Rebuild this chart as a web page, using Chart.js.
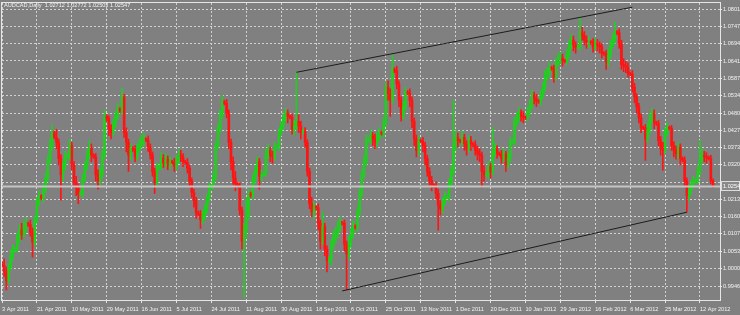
<!DOCTYPE html>
<html>
<head>
<meta charset="utf-8">
<script src="https://cdn.jsdelivr.net/npm/chart.js@4.4.1/dist/chart.umd.min.js"></script>
<style>
  html, body { margin: 0; padding: 0; background: #808080; }
  canvas { display: block; }
</style>
</head>
<body>
<canvas id="audcad" width="740" height="315"></canvas>
<script>
// AUDCAD daily bars, 3 Apr 2011 .. mid Apr 2012 (one bar per trading day, Sunday bars included)
const chartTitle = 'AUDCAD,Daily  1.02712 1.02772 1.02503 1.02547';

const dateLabels = ['3 Apr 2011', '21 Apr 2011', '10 May 2011', '29 May 2011', '16 Jun 2011', '5 Jul 2011',
  '24 Jul 2011', '11 Aug 2011', '30 Aug 2011', '18 Sep 2011', '6 Oct 2011', '25 Oct 2011', '13 Nov 2011',
  '1 Dec 2011', '20 Dec 2011', '10 Jan 2012', '29 Jan 2012', '16 Feb 2012', '6 Mar 2012', '25 Mar 2012', '12 Apr 2012'];
const barsPerLabel = 16;

const priceTicks = [1.0801, 1.0747, 1.0694, 1.0641, 1.0587, 1.0534, 1.0480, 1.0427, 1.0373,
  1.0320, 1.0267, 1.0213, 1.0160, 1.0107, 1.0053, 1.0000, 0.9946];
const priceTickLabels = ['1.0801', '1.0747', '1.0694', '1.0641', '1.0587', '1.0534', '1.0480', '1.0427', '1.0373',
  '1.0320', '', '1.0213', '1.0160', '1.0107', '1.0053', '1.0000', '0.9946'];

const opens = [
  1.0015, 1.0010, 0.9990, 0.9962, 1.0005, 1.0040,
  1.0058, 1.0062, 1.0095, 1.0120, 1.0105, 1.0128,
  1.0140, 1.0136, 1.0112, 1.0082, 1.0150, 1.0208,
  1.0225, 1.0218, 1.0245, 1.0280, 1.0335, 1.0380,
  1.0420, 1.0405, 1.0390, 1.0340, 1.0290, 1.0320,
  1.0345, 1.0348, 1.0380, 1.0320, 1.0265, 1.0250,
  1.0230, 1.0235, 1.0280, 1.0315, 1.0350, 1.0372,
  1.0350, 1.0345, 1.0290, 1.0270, 1.0290, 1.0350,
  1.0470, 1.0462, 1.0430, 1.0420, 1.0445, 1.0470,
  1.0492, 1.0488, 1.0530, 1.0420, 1.0390, 1.0350,
  1.0372, 1.0368, 1.0345, 1.0370, 1.0385, 1.0395,
  1.0400, 1.0398, 1.0375, 1.0350, 1.0300, 1.0265,
  1.0310, 1.0315, 1.0340, 1.0325, 1.0338, 1.0320,
  1.0330, 1.0328, 1.0315, 1.0335, 1.0350, 1.0345,
  1.0330, 1.0328, 1.0310, 1.0270, 1.0235, 1.0210,
  1.0172, 1.0168, 1.0150, 1.0165, 1.0180, 1.0215,
  1.0250, 1.0255, 1.0285, 1.0380, 1.0430, 1.0475,
  1.0515, 1.0510, 1.0480, 1.0390, 1.0330, 1.0280,
  1.0262, 1.0255, 1.0180, 1.0085, 1.0120, 1.0160,
  1.0230, 1.0226, 1.0275, 1.0300, 1.0330, 1.0285,
  1.0290, 1.0293, 1.0355, 1.0365, 1.0350, 1.0345,
  1.0375, 1.0377, 1.0420, 1.0440, 1.0465, 1.0480,
  1.0470, 1.0468, 1.0430, 1.0440, 1.0455, 1.0440,
  1.0420, 1.0425, 1.0390, 1.0300, 1.0200, 1.0175,
  1.0190, 1.0188, 1.0140, 1.0085, 1.0130, 1.0060,
  1.0025, 1.0030, 1.0075, 1.0100, 1.0110, 1.0130,
  1.0142, 1.0140, 1.0075, 1.0045, 1.0080, 1.0105,
  1.0130, 1.0128, 1.0175, 1.0232, 1.0290, 1.0330,
  1.0395, 1.0398, 1.0410, 1.0400, 1.0390, 1.0405,
  1.0420, 1.0417, 1.0450, 1.0560, 1.0540, 1.0520,
  1.0615, 1.0610, 1.0570, 1.0520, 1.0475, 1.0500,
  1.0545, 1.0542, 1.0520, 1.0455, 1.0400, 1.0365,
  1.0395, 1.0393, 1.0380, 1.0340, 1.0300, 1.0272,
  1.0258, 1.0255, 1.0232, 1.0195, 1.0185, 1.0205,
  1.0220, 1.0222, 1.0262, 1.0300, 1.0380, 1.0405,
  1.0395, 1.0393, 1.0405, 1.0385, 1.0370, 1.0395,
  1.0385, 1.0382, 1.0365, 1.0355, 1.0350, 1.0300,
  1.0290, 1.0292, 1.0315, 1.0298, 1.0362, 1.0370,
  1.0355, 1.0353, 1.0340, 1.0355, 1.0320, 1.0340,
  1.0390, 1.0392, 1.0455, 1.0465, 1.0482, 1.0470,
  1.0468, 1.0466, 1.0485, 1.0505, 1.0535, 1.0525,
  1.0518, 1.0516, 1.0535, 1.0558, 1.0598, 1.0600,
  1.0620, 1.0618, 1.0590, 1.0635, 1.0648, 1.0650,
  1.0642, 1.0640, 1.0660, 1.0690, 1.0706, 1.0690,
  1.0682, 1.0684, 1.0728, 1.0720, 1.0705, 1.0698,
  1.0700, 1.0698, 1.0684, 1.0695, 1.0690, 1.0684,
  1.0665, 1.0664, 1.0637, 1.0660, 1.0690, 1.0706,
  1.0730, 1.0728, 1.0695, 1.0630, 1.0625, 1.0622,
  1.0603, 1.0601, 1.0560, 1.0530, 1.0500, 1.0465,
  1.0436, 1.0434, 1.0400, 1.0430, 1.0460, 1.0480,
  1.0450, 1.0448, 1.0395, 1.0370, 1.0365, 1.0420,
  1.0435, 1.0433, 1.0380, 1.0365, 1.0355, 1.0375,
  1.0340, 1.0335, 1.0270, 1.0225, 1.0242, 1.0258,
  1.0270, 1.0272, 1.0300, 1.0340, 1.0350, 1.0345,
  1.0343, 1.0340, 1.0271
];

const highs = [
  1.0020, 1.0030, 1.0005, 1.0015, 1.0058, 1.0075,
  1.0066, 1.0110, 1.0135, 1.0140, 1.0145, 1.0158,
  1.0144, 1.0150, 1.0125, 1.0162, 1.0220, 1.0240,
  1.0228, 1.0262, 1.0295, 1.0348, 1.0400, 1.0443,
  1.0425, 1.0430, 1.0400, 1.0352, 1.0335, 1.0362,
  1.0354, 1.0398, 1.0390, 1.0330, 1.0285, 1.0262,
  1.0240, 1.0292, 1.0330, 1.0368, 1.0395, 1.0385,
  1.0355, 1.0355, 1.0305, 1.0310, 1.0365, 1.0489,
  1.0475, 1.0472, 1.0445, 1.0460, 1.0485, 1.0510,
  1.0497, 1.0557, 1.0538, 1.0435, 1.0400, 1.0385,
  1.0377, 1.0380, 1.0385, 1.0400, 1.0412, 1.0420,
  1.0404, 1.0410, 1.0385, 1.0360, 1.0310, 1.0325,
  1.0320, 1.0358, 1.0352, 1.0355, 1.0348, 1.0345,
  1.0334, 1.0340, 1.0350, 1.0368, 1.0365, 1.0355,
  1.0335, 1.0340, 1.0320, 1.0280, 1.0245, 1.0220,
  1.0178, 1.0180, 1.0182, 1.0198, 1.0230, 1.0265,
  1.0260, 1.0300, 1.0392, 1.0445, 1.0490, 1.0535,
  1.0520, 1.0522, 1.0490, 1.0400, 1.0345, 1.0300,
  1.0266, 1.0265, 1.0190, 1.0140, 1.0215, 1.0245,
  1.0236, 1.0290, 1.0318, 1.0345, 1.0340, 1.0305,
  1.0298, 1.0368, 1.0385, 1.0375, 1.0362, 1.0390,
  1.0382, 1.0435, 1.0455, 1.0478, 1.0496, 1.0490,
  1.0474, 1.0478, 1.0458, 1.0606, 1.0475, 1.0455,
  1.0430, 1.0435, 1.0398, 1.0310, 1.0220, 1.0205,
  1.0194, 1.0200, 1.0150, 1.0175, 1.0140, 1.0070,
  1.0036, 1.0090, 1.0118, 1.0128, 1.0148, 1.0160,
  1.0146, 1.0150, 1.0085, 1.0100, 1.0125, 1.0148,
  1.0135, 1.0190, 1.0248, 1.0305, 1.0348, 1.0412,
  1.0404, 1.0428, 1.0420, 1.0415, 1.0422, 1.0435,
  1.0425, 1.0468, 1.0575, 1.0580, 1.0555, 1.0659,
  1.0620, 1.0625, 1.0580, 1.0530, 1.0518, 1.0560,
  1.0550, 1.0555, 1.0530, 1.0465, 1.0412, 1.0410,
  1.0400, 1.0405, 1.0390, 1.0350, 1.0312, 1.0285,
  1.0262, 1.0268, 1.0245, 1.0210, 1.0220, 1.0238,
  1.0228, 1.0278, 1.0315, 1.0520, 1.0425, 1.0418,
  1.0400, 1.0425, 1.0415, 1.0395, 1.0410, 1.0408,
  1.0390, 1.0395, 1.0378, 1.0370, 1.0360, 1.0318,
  1.0298, 1.0330, 1.0325, 1.0436, 1.0388, 1.0380,
  1.0360, 1.0365, 1.0370, 1.0362, 1.0355, 1.0405,
  1.0398, 1.0468, 1.0482, 1.0498, 1.0490, 1.0485,
  1.0472, 1.0500, 1.0520, 1.0550, 1.0545, 1.0538,
  1.0522, 1.0550, 1.0575, 1.0612, 1.0620, 1.0638,
  1.0625, 1.0628, 1.0650, 1.0665, 1.0668, 1.0662,
  1.0646, 1.0678, 1.0705, 1.0722, 1.0718, 1.0700,
  1.0690, 1.0776, 1.0745, 1.0732, 1.0718, 1.0715,
  1.0704, 1.0710, 1.0712, 1.0708, 1.0700, 1.0695,
  1.0670, 1.0675, 1.0678, 1.0705, 1.0725, 1.0761,
  1.0735, 1.0740, 1.0705, 1.0648, 1.0640, 1.0635,
  1.0608, 1.0612, 1.0572, 1.0540, 1.0510, 1.0478,
  1.0440, 1.0445, 1.0448, 1.0478, 1.0495, 1.0490,
  1.0455, 1.0458, 1.0408, 1.0390, 1.0435, 1.0450,
  1.0440, 1.0442, 1.0392, 1.0378, 1.0390, 1.0385,
  1.0345, 1.0345, 1.0280, 1.0258, 1.0272, 1.0285,
  1.0278, 1.0318, 1.0396, 1.0368, 1.0362, 1.0358,
  1.0348, 1.0350, 1.0277
];

const lows = [
  1.0004, 0.9975, 0.9934, 0.9955, 0.9995, 1.0025,
  1.0052, 1.0050, 1.0080, 1.0090, 1.0095, 1.0110,
  1.0130, 1.0100, 1.0035, 1.0070, 1.0140, 1.0195,
  1.0212, 1.0205, 1.0235, 1.0270, 1.0325, 1.0365,
  1.0400, 1.0370, 1.0320, 1.0211, 1.0270, 1.0305,
  1.0340, 1.0335, 1.0305, 1.0250, 1.0225, 1.0200,
  1.0225, 1.0220, 1.0268, 1.0305, 1.0338, 1.0330,
  1.0340, 1.0270, 1.0245, 1.0258, 1.0280, 1.0340,
  1.0455, 1.0410, 1.0400, 1.0410, 1.0435, 1.0460,
  1.0482, 1.0475, 1.0405, 1.0360, 1.0300, 1.0335,
  1.0362, 1.0330, 1.0335, 1.0360, 1.0372, 1.0380,
  1.0392, 1.0362, 1.0338, 1.0285, 1.0232, 1.0255,
  1.0305, 1.0305, 1.0312, 1.0315, 1.0305, 1.0308,
  1.0322, 1.0300, 1.0305, 1.0325, 1.0330, 1.0315,
  1.0322, 1.0295, 1.0255, 1.0220, 1.0190, 1.0155,
  1.0162, 1.0124, 1.0138, 1.0150, 1.0170, 1.0205,
  1.0245, 1.0245, 1.0275, 1.0370, 1.0420, 1.0465,
  1.0505, 1.0465, 1.0370, 1.0305, 1.0260, 1.0240,
  1.0250, 1.0165, 1.0060, 0.9911, 1.0095, 1.0150,
  1.0220, 1.0215, 1.0262, 1.0290, 1.0245, 1.0270,
  1.0285, 1.0285, 1.0340, 1.0330, 1.0325, 1.0335,
  1.0370, 1.0365, 1.0410, 1.0430, 1.0455, 1.0450,
  1.0462, 1.0415, 1.0412, 1.0430, 1.0420, 1.0400,
  1.0415, 1.0375, 1.0285, 1.0185, 1.0160, 1.0155,
  1.0182, 1.0120, 1.0060, 1.0075, 1.0040, 0.9990,
  1.0020, 1.0010, 1.0062, 1.0080, 1.0095, 1.0115,
  1.0134, 1.0055, 0.9934, 1.0030, 1.0065, 1.0095,
  1.0122, 1.0115, 1.0165, 1.0222, 1.0280, 1.0318,
  1.0390, 1.0385, 1.0380, 1.0370, 1.0378, 1.0395,
  1.0412, 1.0405, 1.0440, 1.0520, 1.0470, 1.0510,
  1.0604, 1.0555, 1.0500, 1.0455, 1.0462, 1.0490,
  1.0536, 1.0500, 1.0435, 1.0380, 1.0345, 1.0350,
  1.0388, 1.0360, 1.0320, 1.0285, 1.0258, 1.0240,
  1.0250, 1.0215, 1.0118, 1.0165, 1.0170, 1.0195,
  1.0215, 1.0210, 1.0250, 1.0290, 1.0365, 1.0375,
  1.0388, 1.0380, 1.0365, 1.0350, 1.0360, 1.0365,
  1.0376, 1.0350, 1.0335, 1.0330, 1.0251, 1.0270,
  1.0285, 1.0278, 1.0280, 1.0290, 1.0348, 1.0340,
  1.0348, 1.0325, 1.0330, 1.0300, 1.0310, 1.0330,
  1.0385, 1.0380, 1.0440, 1.0452, 1.0455, 1.0450,
  1.0460, 1.0455, 1.0475, 1.0495, 1.0508, 1.0500,
  1.0510, 1.0505, 1.0525, 1.0548, 1.0582, 1.0590,
  1.0612, 1.0575, 1.0582, 1.0625, 1.0632, 1.0625,
  1.0635, 1.0630, 1.0650, 1.0678, 1.0672, 1.0665,
  1.0678, 1.0675, 1.0705, 1.0690, 1.0680, 1.0682,
  1.0692, 1.0668, 1.0675, 1.0672, 1.0665, 1.0650,
  1.0658, 1.0615, 1.0625, 1.0650, 1.0680, 1.0695,
  1.0722, 1.0680, 1.0615, 1.0608, 1.0605, 1.0590,
  1.0596, 1.0545, 1.0512, 1.0480, 1.0450, 1.0420,
  1.0428, 1.0334, 1.0390, 1.0418, 1.0450, 1.0432,
  1.0442, 1.0380, 1.0350, 1.0304, 1.0355, 1.0410,
  1.0428, 1.0365, 1.0345, 1.0338, 1.0340, 1.0320,
  1.0330, 1.0255, 1.0174, 1.0210, 1.0230, 1.0248,
  1.0265, 1.0262, 1.0290, 1.0328, 1.0330, 1.0325,
  1.0335, 1.0262, 1.0250
];

const closes = [
  1.0010, 0.9990, 0.9962, 1.0005, 1.0040, 1.0058,
  1.0062, 1.0095, 1.0120, 1.0105, 1.0128, 1.0140,
  1.0136, 1.0112, 1.0082, 1.0150, 1.0208, 1.0225,
  1.0218, 1.0245, 1.0280, 1.0335, 1.0380, 1.0420,
  1.0405, 1.0390, 1.0340, 1.0290, 1.0320, 1.0345,
  1.0348, 1.0380, 1.0320, 1.0265, 1.0250, 1.0230,
  1.0235, 1.0280, 1.0315, 1.0350, 1.0372, 1.0350,
  1.0345, 1.0290, 1.0270, 1.0290, 1.0350, 1.0470,
  1.0462, 1.0430, 1.0420, 1.0445, 1.0470, 1.0492,
  1.0488, 1.0530, 1.0420, 1.0390, 1.0350, 1.0372,
  1.0368, 1.0345, 1.0370, 1.0385, 1.0395, 1.0400,
  1.0398, 1.0375, 1.0350, 1.0300, 1.0265, 1.0310,
  1.0315, 1.0340, 1.0325, 1.0338, 1.0320, 1.0330,
  1.0328, 1.0315, 1.0335, 1.0350, 1.0345, 1.0330,
  1.0328, 1.0310, 1.0270, 1.0235, 1.0210, 1.0172,
  1.0168, 1.0150, 1.0165, 1.0180, 1.0215, 1.0250,
  1.0255, 1.0285, 1.0380, 1.0430, 1.0475, 1.0515,
  1.0510, 1.0480, 1.0390, 1.0330, 1.0280, 1.0262,
  1.0255, 1.0180, 1.0085, 1.0120, 1.0160, 1.0230,
  1.0226, 1.0275, 1.0300, 1.0330, 1.0285, 1.0290,
  1.0293, 1.0355, 1.0365, 1.0350, 1.0345, 1.0375,
  1.0377, 1.0420, 1.0440, 1.0465, 1.0480, 1.0470,
  1.0468, 1.0430, 1.0440, 1.0455, 1.0440, 1.0420,
  1.0425, 1.0390, 1.0300, 1.0200, 1.0175, 1.0190,
  1.0188, 1.0140, 1.0085, 1.0130, 1.0060, 1.0025,
  1.0030, 1.0075, 1.0100, 1.0110, 1.0130, 1.0142,
  1.0140, 1.0075, 1.0045, 1.0080, 1.0105, 1.0130,
  1.0128, 1.0175, 1.0232, 1.0290, 1.0330, 1.0395,
  1.0398, 1.0410, 1.0400, 1.0390, 1.0405, 1.0420,
  1.0417, 1.0450, 1.0560, 1.0540, 1.0520, 1.0615,
  1.0610, 1.0570, 1.0520, 1.0475, 1.0500, 1.0545,
  1.0542, 1.0520, 1.0455, 1.0400, 1.0365, 1.0395,
  1.0393, 1.0380, 1.0340, 1.0300, 1.0272, 1.0258,
  1.0255, 1.0232, 1.0195, 1.0185, 1.0205, 1.0220,
  1.0222, 1.0262, 1.0300, 1.0380, 1.0405, 1.0395,
  1.0393, 1.0405, 1.0385, 1.0370, 1.0395, 1.0385,
  1.0382, 1.0365, 1.0355, 1.0350, 1.0300, 1.0290,
  1.0292, 1.0315, 1.0298, 1.0362, 1.0370, 1.0355,
  1.0353, 1.0340, 1.0355, 1.0320, 1.0340, 1.0390,
  1.0392, 1.0455, 1.0465, 1.0482, 1.0470, 1.0468,
  1.0466, 1.0485, 1.0505, 1.0535, 1.0525, 1.0518,
  1.0516, 1.0535, 1.0558, 1.0598, 1.0600, 1.0620,
  1.0618, 1.0590, 1.0635, 1.0648, 1.0650, 1.0642,
  1.0640, 1.0660, 1.0690, 1.0706, 1.0690, 1.0682,
  1.0684, 1.0728, 1.0720, 1.0705, 1.0698, 1.0700,
  1.0698, 1.0684, 1.0695, 1.0690, 1.0684, 1.0665,
  1.0664, 1.0637, 1.0660, 1.0690, 1.0706, 1.0730,
  1.0728, 1.0695, 1.0630, 1.0625, 1.0622, 1.0603,
  1.0601, 1.0560, 1.0530, 1.0500, 1.0465, 1.0436,
  1.0434, 1.0400, 1.0430, 1.0460, 1.0480, 1.0450,
  1.0448, 1.0395, 1.0370, 1.0365, 1.0420, 1.0435,
  1.0433, 1.0380, 1.0365, 1.0355, 1.0375, 1.0340,
  1.0335, 1.0270, 1.0225, 1.0242, 1.0258, 1.0270,
  1.0272, 1.0300, 1.0340, 1.0350, 1.0345, 1.0343,
  1.0340, 1.0271, 1.0255
];

const bidPrice = 1.02547;
const bidLabel = '1.0254';
// trend channel drawn on the chart: [bar index, price]
const upperChannel = [[135, 1.0606], [289, 1.0807]];
const lowerChannel = [[156, 0.9931], [314, 1.0174]];

const bullColor = '#1fd01f';
const bearColor = '#ff1414';
const textColor = '#f2f2f2';
const gridColor = '#d2d2d2';
const frameColor = '#e6e6e6';
const fontFamily = "'Liberation Sans', sans-serif";
const smallFont = { family: fontFamily, size: 5.6 };

const barColors = closes.map((c, i) => c >= opens[i] ? bullColor : bearColor);
const wickData = highs.map((h, i) => ({ x: i, y: [lows[i], h] }));
const bodyData = opens.map((o, i) => ({ x: i, y: [o, closes[i]] }));

const overlayPlugin = {
  id: 'mt4overlay',
  afterDatasetsDraw(chart) {
    const { ctx, chartArea: a, scales: { x, y } } = chart;
    ctx.save();
    ctx.beginPath();
    ctx.rect(a.left, a.top, a.right - a.left, a.bottom - a.top);
    ctx.clip();

    // bid line
    const by = Math.round(y.getPixelForValue(bidPrice)) + 0.5;
    ctx.strokeStyle = '#c4c4c4';
    ctx.lineWidth = 2;
    ctx.beginPath();
    ctx.moveTo(a.left, by);
    ctx.lineTo(a.right, by);
    ctx.stroke();

    // channel lines
    ctx.strokeStyle = '#1c1c1c';
    ctx.lineWidth = 1;
    [upperChannel, lowerChannel].forEach(line => {
      ctx.beginPath();
      ctx.moveTo(x.getPixelForValue(line[0][0]), y.getPixelForValue(line[0][1]));
      ctx.lineTo(x.getPixelForValue(line[1][0]), y.getPixelForValue(line[1][1]));
      ctx.stroke();
    });
    ctx.restore();

    // symbol header
    ctx.save();
    ctx.fillStyle = textColor;
    ctx.font = '5.6px ' + fontFamily;
    ctx.textBaseline = 'top';
    ctx.fillText(chartTitle, a.left + 2, a.top);
    ctx.restore();
  },
  afterDraw(chart) {
    const { ctx, chartArea: a, scales: { y } } = chart;
    ctx.save();
    // frame
    ctx.strokeStyle = frameColor;
    ctx.lineWidth = 1;
    ctx.strokeRect(a.left - 0.5, a.top - 0.5, a.right - a.left + 1, a.bottom - a.top + 1);

    // bid price box on the price scale
    const by = Math.round(y.getPixelForValue(bidPrice));
    ctx.fillStyle = '#8a8a8a';
    ctx.fillRect(a.right + 1, by - 5, 19, 10);
    ctx.strokeStyle = '#dcdcdc';
    ctx.strokeRect(a.right + 1.5, by - 4.5, 18, 9);
    ctx.fillStyle = '#ffffff';
    ctx.font = '5.6px ' + fontFamily;
    ctx.textBaseline = 'middle';
    ctx.fillText(bidLabel, a.right + 3, by + 0.5);
    ctx.restore();
  }
};

new Chart(document.getElementById('audcad'), {
  type: 'bar',
  data: {
    datasets: [
      { data: wickData, backgroundColor: barColors, barThickness: 1, grouped: false },
      { data: bodyData, backgroundColor: barColors, barThickness: 2, grouped: false, minBarLength: 1 }
    ]
  },
  options: {
    responsive: false,
    animation: false,
    devicePixelRatio: 1,
    layout: { padding: { left: 2, top: 3, right: 0, bottom: 0 } },
    plugins: { legend: { display: false }, tooltip: { enabled: false } },
    scales: {
      x: {
        type: 'linear',
        min: 0,
        max: 329.2,
        offset: false,
        afterBuildTicks: s => { s.ticks = dateLabels.map((_, k) => ({ value: k * barsPerLabel })); },
        afterFit: s => { s.height = 15; s.paddingLeft = 0; s.paddingRight = 0; },
        grid: { color: gridColor, offset: false, tickLength: 3, tickColor: frameColor },
        border: { display: false, dash: [2, 2] },
        ticks: {
          align: 'start', padding: 3, color: textColor, font: smallFont,
          maxRotation: 0, autoSkip: false,
          callback: v => dateLabels[Math.round(v / barsPerLabel)]
        }
      },
      y: {
        position: 'right',
        min: 0.9903,
        max: 1.0820,
        afterBuildTicks: s => { s.ticks = priceTicks.map(v => ({ value: v })); },
        afterFit: s => { s.width = 20; s.paddingTop = 0; s.paddingBottom = 0; },
        grid: { color: gridColor, tickLength: 2, tickColor: frameColor },
        border: { display: false, dash: [2, 2] },
        ticks: {
          padding: 1, color: textColor, font: smallFont, autoSkip: false,
          callback: (v, i) => priceTickLabels[i]
        }
      }
    }
  },
  plugins: [overlayPlugin]
});
</script>
</body>
</html>
